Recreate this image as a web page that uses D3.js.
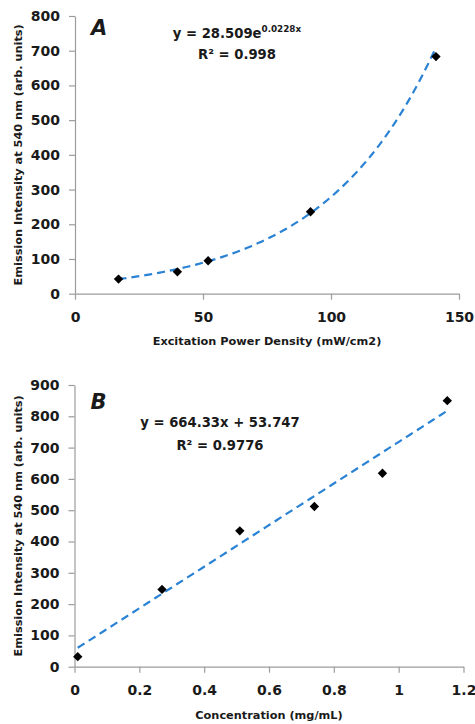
<!doctype html>
<html>
<head>
  <script src="https://d3js.org/d3.v7.min.js"></script>
</head>
<style>
  body {
    margin: 0;
    background: #fff;
  }

  svg text {
    font-family: "DejaVu Sans", sans-serif;
    font-weight: bold;
    fill: #1a1a1a;
  }

  .axis path, .axis line {
    stroke: #9c9c9c;
    stroke-width: 1.2;
  }

  .axis text {
    font-size: 14px;
  }

  .title {
    font-size: 11.3px;
  }

  .eq {
    font-size: 13.2px;
  }

  .trend {
    fill: none;
    stroke: #2a82d4;
    stroke-width: 2.2;
    stroke-dasharray: 8 5;
  }
</style>
<body>
<svg></svg>

<script>
  // panel A: emission vs excitation power density
  const powerDensity = [17, 40, 52, 92, 141];
  const intensityA = [42, 63, 95, 236, 683];
  const xTicksA = [0, 50, 100, 150];
  const yTicksA = [0, 100, 200, 300, 400, 500, 600, 700, 800];
  const expCoefA = 28.509, expRateA = 0.0228;

  // panel B: emission vs concentration
  const concentration = [0.01, 0.27, 0.51, 0.74, 0.95, 1.15];
  const intensityB = [32, 247, 434, 512, 618, 850];
  const xTicksB = [0, 0.2, 0.4, 0.6, 0.8, 1, 1.2];
  const yTicksB = [0, 100, 200, 300, 400, 500, 600, 700, 800, 900];
  const slopeB = 664.33, interceptB = 53.747;

  const width = 475, height = 724;
  const svg = d3.select("svg")
    .attr("width", width)
    .attr("height", height);

  function drawPanel(opts) {
    const x = d3.scaleLinear()
      .domain([0, d3.max(opts.xTicks)])
      .range([opts.left, opts.right]);
    const y = d3.scaleLinear()
      .domain([0, d3.max(opts.yTicks)])
      .range([opts.bottom, opts.top]);

    svg.append("g")
      .attr("class", "axis")
      .attr("transform", `translate(${opts.left},0)`)
      .call(d3.axisLeft(y).tickValues(opts.yTicks).tickSize(6).tickSizeOuter(0).tickPadding(9));

    svg.append("g")
      .attr("class", "axis")
      .attr("transform", `translate(0,${opts.bottom})`)
      .call(d3.axisBottom(x).tickValues(opts.xTicks).tickFormat(d => String(d))
        .tickSize(6).tickSizeOuter(0).tickPadding(12));

    svg.selectAll(".axis .domain").attr("stroke", "#9c9c9c");

    // trendline from the fitted equation, over the data range
    const x0 = d3.min(opts.xs), x1 = d3.max(opts.xs);
    const fitPts = d3.range(0, 101).map(i => {
      const xv = x0 + (x1 - x0) * i / 100;
      return [xv, opts.fit(xv)];
    });
    svg.append("path")
      .attr("class", "trend")
      .attr("d", d3.line().x(d => x(d[0])).y(d => y(d[1]))(fitPts));

    svg.selectAll(null)
      .data(opts.xs.map((v, i) => [v, opts.ys[i]]))
      .enter().append("path")
      .attr("d", d3.symbol().type(d3.symbolSquare).size(44)())
      .attr("fill", "#000")
      .attr("transform", d => `translate(${x(d[0])},${y(d[1])}) rotate(45)`);

    svg.append("text")
      .attr("class", "title")
      .attr("text-anchor", "middle")
      .attr("x", (opts.left + opts.right) / 2)
      .attr("y", opts.xTitleY)
      .text(opts.xTitle);

    svg.append("text")
      .attr("class", "title")
      .attr("text-anchor", "middle")
      .attr("transform", `translate(22,${(opts.top + opts.bottom) / 2}) rotate(-90)`)
      .text("Emission Intensity at 540 nm (arb. units)");

    svg.append("text")
      .attr("x", opts.left + 16)
      .attr("y", opts.letterY)
      .style("font-size", "21px")
      .style("font-style", "italic")
      .text(opts.letter);
  }

  drawPanel({
    left: 75, right: 459, top: 16, bottom: 293.7,
    xTicks: xTicksA, yTicks: yTicksA,
    xs: powerDensity, ys: intensityA,
    fit: v => expCoefA * Math.exp(expRateA * v),
    xTitle: "Excitation Power Density (mW/cm2)", xTitleY: 345,
    letter: "A", letterY: 35
  });

  drawPanel({
    left: 74.5, right: 463.5, top: 385, bottom: 666.7,
    xTicks: xTicksB, yTicks: yTicksB,
    xs: concentration, ys: intensityB,
    fit: v => slopeB * v + interceptB,
    xTitle: "Concentration (mg/mL)", xTitleY: 719,
    letter: "B", letterY: 409
  });

  // equation labels
  const eqA = svg.append("text")
    .attr("class", "eq")
    .attr("text-anchor", "middle")
    .attr("x", 237)
    .attr("y", 38);
  eqA.append("tspan").text(`y = ${expCoefA}e`);
  eqA.append("tspan").attr("dy", -6).style("font-size", "8.8px").text(`${expRateA}x`);
  svg.append("text")
    .attr("class", "eq")
    .attr("text-anchor", "middle")
    .attr("x", 237)
    .attr("y", 59)
    .text("R² = 0.998");

  svg.append("text")
    .attr("class", "eq")
    .attr("text-anchor", "middle")
    .attr("x", 220)
    .attr("y", 427)
    .text(`y = ${slopeB}x + ${interceptB}`);
  svg.append("text")
    .attr("class", "eq")
    .attr("text-anchor", "middle")
    .attr("x", 220)
    .attr("y", 450)
    .text("R² = 0.9776");
</script>
</body>
</html>
